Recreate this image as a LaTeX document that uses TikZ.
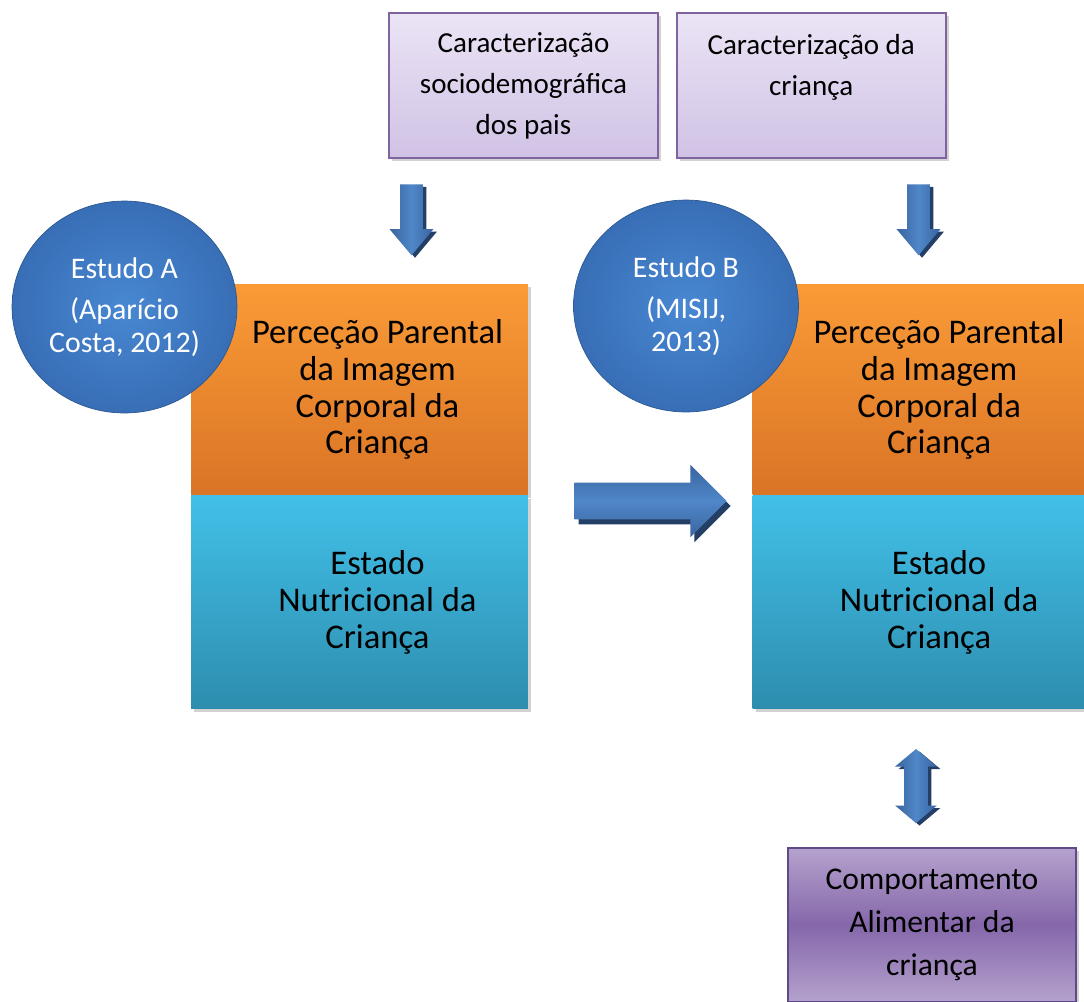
\documentclass[tikz,border=0pt]{standalone}
\usepackage{fontspec}
\setmainfont{Carlito}
\usetikzlibrary{positioning,shapes.geometric,shapes.arrows,shadows}

\definecolor{lavtop}{HTML}{EBE4F5}
\definecolor{lavbot}{HTML}{D0C2E5}
\definecolor{lavedge}{HTML}{8064A2}
\definecolor{ortop}{HTML}{FA9B36}
\definecolor{orbot}{HTML}{DA7426}
\definecolor{cytop}{HTML}{42C0E8}
\definecolor{cybot}{HTML}{2D8DAE}
\definecolor{studyin}{HTML}{4888D2}
\definecolor{studyout}{HTML}{386EB6}
\definecolor{arrin}{HTML}{4F87C8}
\definecolor{arrout}{HTML}{3A64A0}
\definecolor{arrshade}{HTML}{243F66}
\definecolor{eattop}{HTML}{B5A2CD}
\definecolor{eatmid}{HTML}{8567AA}
\definecolor{eatedge}{HTML}{5E4A88}

\tikzstyle{infobox} = [
  rectangle, draw=lavedge, line width=1pt, top color=lavtop,
  bottom color=lavbot, minimum width=5.38cm, minimum height=2.9cm,
  align=center, font=\fontsize{16.5}{23.3}\selectfont,
  drop shadow={shadow xshift=0.06cm, shadow yshift=-0.06cm, opacity=0.35}
]
\tikzstyle{percblock} = [
  rectangle, top color=ortop, bottom color=orbot, minimum width=6.74cm,
  minimum height=4.22cm, inner sep=0pt,
  drop shadow={shadow xshift=0.06cm, shadow yshift=-0.06cm, opacity=0.35}
]
\tikzstyle{estblock} = [
  rectangle, top color=cytop, bottom color=cybot, minimum width=6.74cm,
  minimum height=4.26cm, inner sep=0pt,
  drop shadow={shadow xshift=0.06cm, shadow yshift=-0.06cm, opacity=0.35}
]
\tikzstyle{blocktext} = [
  align=center, font=\fontsize{19.7}{21}\selectfont, xshift=0.36cm
]
\tikzstyle{study} = [
  ellipse, inner color=studyin, outer color=studyout, draw=studyout!80!black,
  line width=0.4pt, minimum width=4.5cm, minimum height=4.24cm, inner sep=0pt,
  text=white, align=center, font=\fontsize{17}{18.8}\selectfont
]
\tikzstyle{downarrow} = [
  single arrow, shape border rotate=270, inner sep=0.22cm,
  minimum height=1.42cm,
  single arrow head extend=0.21cm, single arrow tip angle=80,
  left color=arrout, right color=arrout, middle color=arrin,
  drop shadow={shadow xshift=0.07cm, shadow yshift=-0.05cm, fill=arrshade, opacity=1}
]
\tikzstyle{rightarrow} = [
  single arrow, inner sep=0.36cm,
  minimum height=3.04cm,
  single arrow head extend=0.36cm, single arrow tip angle=90,
  top color=arrout, bottom color=arrout, middle color=arrin,
  drop shadow={shadow xshift=0.08cm, shadow yshift=-0.1cm, fill=arrshade, opacity=1}
]
\tikzstyle{bothways} = [
  double arrow, shape border rotate=90, inner sep=0.23cm,
  minimum height=1.48cm,
  double arrow head extend=0.18cm, double arrow tip angle=100,
  left color=arrout, right color=arrout, middle color=arrin,
  drop shadow={shadow xshift=0.07cm, shadow yshift=-0.05cm, fill=arrshade, opacity=1}
]
\tikzstyle{eatbox} = [
  rectangle, draw=eatedge, line width=1pt, top color=eattop,
  bottom color=eattop, middle color=eatmid, minimum width=5.76cm,
  minimum height=3.08cm, align=center, font=\fontsize{18}{24.4}\selectfont,
  drop shadow={shadow xshift=0.06cm, shadow yshift=-0.06cm, opacity=0.35}
]

\begin{document}
\begin{tikzpicture}[x=0.02cm, y=-0.02cm]
    \clip (0,0) rectangle (1084,1001);
    \fill[white] (0,0) rectangle (1084,1001);

    % top boxes
    \node[infobox] (pais) at (523.5,85.5) {Caracterização\\sociodemográfica\\dos pais};
    \node[infobox, right=0.34cm of pais] (crianca) {Caracterização da\\criança\\~};

    \node[downarrow] (downA) at (411.5,213) {};
    \node[downarrow] (downB) at (918.5,213) {};

    % study A
    \node[percblock, label={[blocktext]center:Perceção Parental\\da Imagem\\Corporal da\\Criança}] (percA) at (359.5,389.5) {};
    \node[estblock, below=0cm of percA, label={[blocktext]center:Estado\\Nutricional da\\Criança}] (nutrA) {};
    \node[study] (studyA) at (124.5,307) {Estudo A\\[4.5pt](Aparício\\Costa, 2012)};

    \node[rightarrow] (toB) at (641.5,501) {};

    % study B
    \node[percblock, right=4.48cm of percA, label={[blocktext]center:Perceção Parental\\da Imagem\\Corporal da\\Criança}] (percB) {};
    \node[estblock, below=0cm of percB, label={[blocktext]center:Estado\\Nutricional da\\Criança}] (nutrB) {};
    \node[study] (studyB) at (686,306) {Estudo B\\[4.5pt](MISIJ,\\2013)};

    \node[bothways] (link) at (916,786) {};
    \node[eatbox] (eating) at (932,925) {Comportamento\\Alimentar da\\criança};
\end{tikzpicture}
\end{document}
